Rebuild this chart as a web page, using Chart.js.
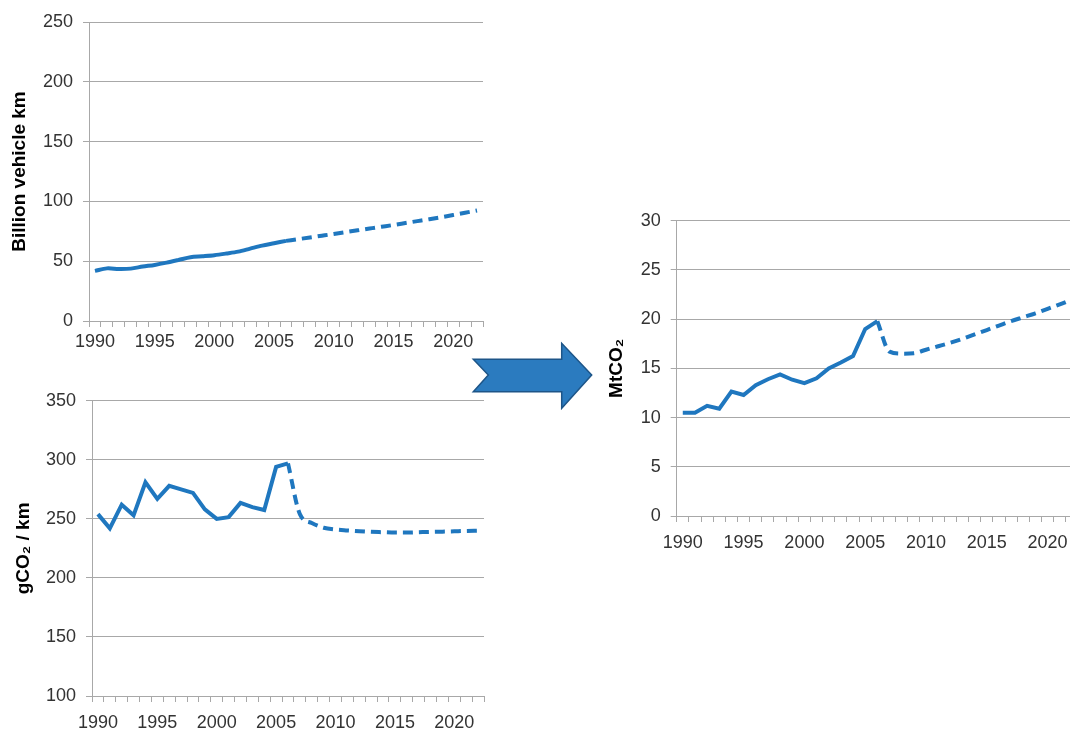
<!DOCTYPE html>
<html>
<head>
<meta charset="utf-8">
<script src="https://cdn.jsdelivr.net/npm/chart.js@4"></script>
<style>
  html, body { margin: 0; padding: 0; background: #fff; overflow: hidden; width: 1070px; height: 734px; }
  canvas, svg { position: absolute; }
</style>
</head>
<body>
<canvas id="vkmChart" width="495" height="360" style="left:0;top:0"></canvas>
<canvas id="gkmChart" width="496" height="354" style="left:0;top:380px"></canvas>
<canvas id="mtChart" width="490" height="360" style="left:600px;top:200px"></canvas>
<svg width="130" height="75" style="left:470px;top:340px">
  <polygon points="3.3,19.3 18.3,35 3.3,51.7 91.7,51.7 91.7,68.3 121.7,35 91.7,3.3 91.7,19.3"
    fill="#2b7bbf" stroke="#1d5588" stroke-width="1.5" stroke-linejoin="miter" />
</svg>
<script>
// years on the x axis, labels every 5 years
const years = [
  "1990", "1991", "1992", "1993", "1994", "1995", "1996", "1997", "1998", "1999",
  "2000", "2001", "2002", "2003", "2004", "2005", "2006", "2007", "2008", "2009",
  "2010", "2011", "2012", "2013", "2014", "2015", "2016", "2017", "2018", "2019",
  "2020", "2021", "2022",
];

// Billion vehicle km, 1990-2006 actual, 2006-2022 projected
const vkmActual = [41.9, 44.0, 43.5, 43.8, 45.5, 46.9, 48.8, 51.0, 53.3, 54.1, 55.0, 56.4, 58.0, 60.5, 63.0, 65.0, 67.0];
const vkmProjected = [67.0, 68.4, 69.8, 71.3, 72.8, 74.3, 75.8, 77.3, 78.8, 80.3, 81.9, 83.5, 85.1, 86.8, 88.6, 90.5, 92.4];

// gCO2 / km
const gkmActual = [254, 242, 262, 253, 281, 267, 278, 275, 272, 258, 250, 251.5, 263.5, 260, 257.5, 294, 297];
const gkmProjected = [297, 254, 246.5, 242.5, 241, 240.2, 239.5, 239, 238.7, 238.4, 238.4, 238.7, 239, 239.2, 239.5, 239.8, 240];

// MtCO2
const mtActual = [10.5, 10.5, 11.2, 10.9, 12.65, 12.3, 13.3, 13.9, 14.4, 13.85, 13.5, 14.0, 15.0, 15.6, 16.25, 19.0, 19.8];
const mtProjected = [19.8, 16.7, 16.5, 16.55, 16.9, 17.25, 17.6, 18.0, 18.45, 18.9, 19.35, 19.8, 20.2, 20.6, 21.05, 21.5, 22.0];

const blue = "#1f77bf";
const gridGrey = "#a8a8a8";
const textGrey = "#333333";
const fontFamily = "'Liberation Sans', Arial, sans-serif";
const startProjection = years.indexOf("2006");

function padProjection(values) {
  return Array(startProjection).fill(null).concat(values);
}

function makeChart(id, opts) {
  new Chart(document.getElementById(id), {
    type: "line",
    data: {
      labels: years,
      datasets: [
        {
          data: opts.actual,
          borderColor: blue,
          borderWidth: 4,
          pointRadius: 0,
          tension: opts.tension,
        },
        {
          data: padProjection(opts.projected),
          borderColor: blue,
          borderWidth: 4,
          borderDash: [10, 6],
          pointRadius: 0,
          cubicInterpolationMode: "monotone",
        },
      ],
    },
    options: {
      responsive: false,
      animation: false,
      layout: { padding: { top: opts.padTop, right: opts.padRight, left: 0, bottom: 0 } },
      plugins: { legend: { display: false }, tooltip: { enabled: false } },
      scales: {
        x: {
          offset: true,
          grid: { offset: true, drawOnChartArea: false, drawTicks: true, tickLength: 6, color: gridGrey },
          border: { display: true, color: gridGrey },
          ticks: {
            autoSkip: false,
            maxRotation: 0,
            minRotation: 0,
            padding: opts.xPad,
            color: textGrey,
            font: { family: fontFamily, size: 18 },
            callback: (v, i) => (i % 5 === 0 ? years[i] : ""),
          },
          afterFit: (scale) => { scale.height = opts.xHeight; },
        },
        y: {
          min: opts.min,
          max: opts.max,
          ticks: {
            stepSize: opts.step,
            padding: 10,
            color: textGrey,
            font: { family: fontFamily, size: 18 },
          },
          grid: { color: gridGrey, tickLength: 6 },
          border: { display: true, color: gridGrey },
          title: {
            display: true,
            text: opts.title,
            color: "#000",
            font: { family: fontFamily, size: 19, weight: "bold" },
            padding: { top: opts.titlePad, bottom: 0 },
          },
          afterFit: (scale) => { scale.width = opts.yWidth; },
        },
      },
    },
  });
}

makeChart("vkmChart", {
  actual: vkmActual, projected: vkmProjected, tension: 0.3,
  min: 0, max: 250, step: 50, title: "Billion vehicle km",
  padTop: 22, padRight: 12, yWidth: 89, xHeight: 39, xPad: 4, titlePad: 8.6,
});

makeChart("gkmChart", {
  actual: gkmActual, projected: gkmProjected, tension: 0,
  min: 100, max: 350, step: 50, title: "gCO₂ / km",
  padTop: 17.3, padRight: 12, yWidth: 92, xHeight: 38, xPad: 10, titlePad: 12,
});

makeChart("mtChart", {
  actual: mtActual, projected: mtProjected, tension: 0,
  min: 0, max: 30, step: 5, title: "MtCO₂",
  padTop: 17.3, padRight: 12, yWidth: 76.7, xHeight: 44, xPad: 10, titlePad: 5.6,
});
</script>
</body>
</html>
